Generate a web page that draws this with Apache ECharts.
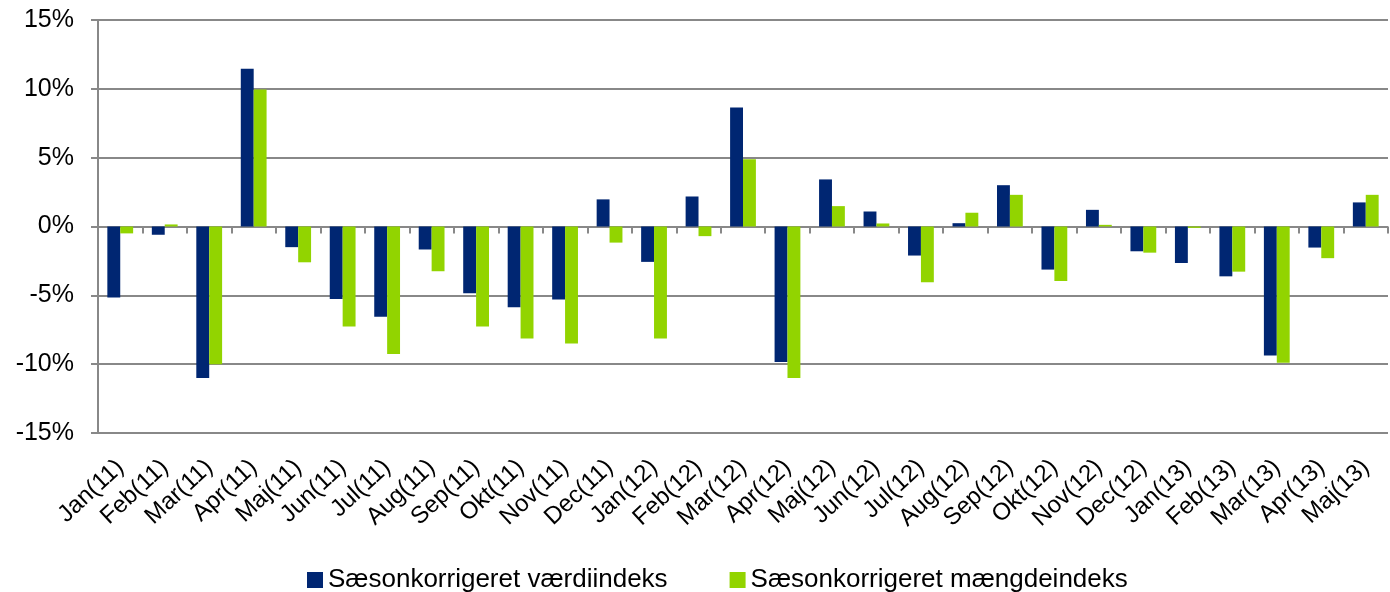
<!DOCTYPE html>
<html><head><meta charset="utf-8">
<script src="https://cdn.jsdelivr.net/npm/echarts@6/dist/echarts.min.js"></script>
<style>html,body{margin:0;padding:0;background:#fff}#c{width:1390px;height:592px}</style>
</head><body><div id="c"></div>
<script>
const categories = ["Jan(11)","Feb(11)","Mar(11)","Apr(11)","Maj(11)","Jun(11)","Jul(11)","Aug(11)","Sep(11)","Okt(11)","Nov(11)","Dec(11)","Jan(12)","Feb(12)","Mar(12)","Apr(12)","Maj(12)","Jun(12)","Jul(12)","Aug(12)","Sep(12)","Okt(12)","Nov(12)","Dec(12)","Jan(13)","Feb(13)","Mar(13)","Apr(13)","Maj(13)"];
const vaerdi = [-5.15,-0.6,-11.0,11.45,-1.5,-5.27,-6.55,-1.67,-4.85,-5.87,-5.3,1.97,-2.57,2.18,8.64,-9.85,3.42,1.09,-2.11,0.24,3.0,-3.13,1.21,-1.8,-2.65,-3.62,-9.37,-1.53,1.75];
const maengde = [-0.5,0.15,-10.0,9.95,-2.6,-7.26,-9.27,-3.25,-7.26,-8.13,-8.5,-1.17,-8.13,-0.7,4.88,-11.0,1.48,0.22,-4.05,1.0,2.3,-3.96,0.12,-1.9,-0.1,-3.28,-9.9,-2.3,2.3];
const seriesNames = ["Sæsonkorrigeret værdiindeks","Sæsonkorrigeret mængdeindeks"];

const chart = echarts.init(document.getElementById('c'));
const font = 'Liberation Sans, Arial, sans-serif';
chart.setOption({
  animation:false,
  backgroundColor:'#fff',
  grid:{left:98,right:2,top:20,bottom:159,containLabel:false},
  legend:{top:562,left:302,itemWidth:16,itemHeight:16,itemGap:62,icon:'rect',
    textStyle:{fontFamily:font,fontSize:26,color:'#000'},data:seriesNames},
  xAxis:{type:'category',data:categories,
    axisLine:{show:false},
    axisTick:{show:true,alignWithLabel:false,length:7,lineStyle:{color:'#888',width:2}},
    axisLabel:{rotate:43,fontFamily:font,fontSize:24,color:'#000',margin:31,interval:0}},
  yAxis:{type:'value',min:-15,max:15,interval:5,
    axisLine:{show:true,lineStyle:{color:'#888',width:2}},
    axisTick:{show:true,length:7,lineStyle:{color:'#888',width:2}},
    splitLine:{lineStyle:{color:'#888',width:2}},
    axisLabel:{formatter:'{value}%',fontFamily:font,fontSize:25,color:'#000',margin:24}},
  series:[
    {name:seriesNames[0],type:'bar',data:vaerdi,barGap:'0%',barCategoryGap:'42%',itemStyle:{color:'#002672'}},
    {name:seriesNames[1],type:'bar',data:maengde,barGap:'0%',barCategoryGap:'42%',itemStyle:{color:'#92D400'}}
  ]
});
</script></body></html>
